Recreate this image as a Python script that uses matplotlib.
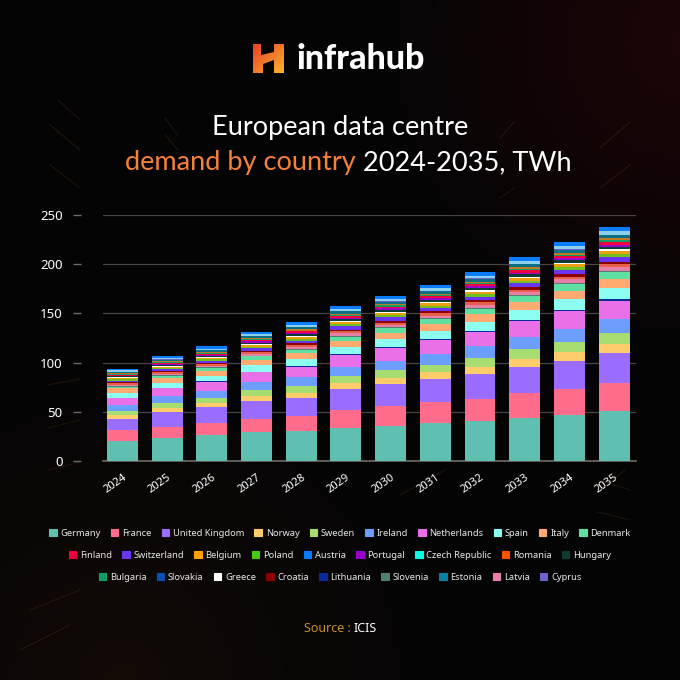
import numpy as np
import matplotlib
matplotlib.use('Agg')
import matplotlib.pyplot as plt
from matplotlib.patches import Patch, Polygon

years = [2024, 2025, 2026, 2027, 2028, 2029, 2030, 2031, 2032, 2033, 2034, 2035]
yticks = [0, 50, 100, 150, 200, 250]

germany = [20, 23, 26, 29, 30, 34, 36, 39, 41, 44, 47, 51]
france = [11, 12, 13, 14, 16, 18, 20, 21, 22.5, 25, 26, 28]
uk = [12, 15, 15.5, 18, 18, 21, 22, 23, 25, 27, 29, 31]
norway = [3.5, 4, 4.5, 5, 5.5, 6, 6, 7, 7.5, 8, 8.5, 9]
sweden = [4.5, 5, 5.5, 6, 7, 7, 8, 8, 9, 10, 10.5, 11]
ireland = [6, 7, 7, 8, 8.5, 9.5, 10, 11, 11.5, 12.5, 13.5, 14]
netherlands = [7, 8, 9, 10, 11, 12, 13, 13.5, 15, 16, 18, 19]
lithuania = [.5, .6, .6, .7, .8, .9, 1, 1, 1.1, 1.2, 1.4, 1.5]
spain = [4.7, 5, 5.5, 6.5, 7, 7.5, 8, 8.5, 9, 9.5, 10.5, 11]
italy = [4.5, 4.5, 5, 5.5, 6, 6.5, 6.5, 7, 7.5, 8, 8.5, 9]
denmark = [2, 2.5, 3, 3.5, 3.5, 4, 4.5, 5, 5.5, 6, 7, 7.5]
slovenia = [.6, .7, .7, .8, .9, 1, 1, 1.1, 1.2, 1.3, 1.4, 1.5]
latvia = [1.4, 1.5, 1.6, 1.9, 2, 2.3, 2.5, 2.6, 2.8, 3, 3.2, 3.5]
romania = [1.2, 1.3, 1.4, 1.7, 1.8, 2, 2.2, 2.3, 2.5, 2.6, 2.8, 3]
croatia = [1, 1.1, 1.2, 1.4, 1.6, 1.8, 1.9, 2, 2.1, 2.3, 2.4, 2.6]
switzerland = [1.9, 2.1, 2.3, 2.6, 2.8, 3.2, 3.4, 3.6, 3.8, 4.1, 4.4, 4.7]
poland = [1.2, 1.4, 1.5, 1.7, 1.9, 2.1, 2.2, 2.4, 2.5, 2.7, 2.9, 3.1]
belgium = [1.2, 1.3, 1.4, 1.7, 1.8, 2, 2.2, 2.3, 2.5, 2.6, 2.8, 3]
greece = [.8, .9, 1, 1.1, 1.2, 1.4, 1.4, 1.5, 1.6, 1.7, 1.9, 2]
hungary = [.9, 1, 1.1, 1.3, 1.5, 1.7, 1.7, 1.8, 2, 2.1, 2.2, 2.4]
portugal = [.9, 1, 1, 1.2, 1.3, 1.5, 1.6, 1.7, 1.8, 1.9, 2, 2.2]
finland = [1, 1.2, 1.3, 1.5, 1.6, 1.9, 1.9, 2.1, 2.2, 2.4, 2.5, 2.7]
bulgaria = [.6, .7, .7, .8, .9, 1, 1.1, 1.2, 1.2, 1.3, 1.4, 1.5]
slovakia = [.8, .9, 1, 1.1, 1.2, 1.4, 1.4, 1.5, 1.6, 1.7, 1.9, 2]
estonia = [1.3, 1.4, 1.6, 1.8, 2, 2.3, 2.4, 2.5, 2.7, 2.9, 3.1, 3.3]
cyprus = [.2, .2, .2, .3, .3, .3, .4, .4, .4, .4, .5, .5]
czech = [1.3, 1.5, 1.6, 1.9, 2, 2.3, 2.4, 2.6, 2.7, 2.9, 3.1, 3.4]
austria = [1.8, 2, 2.2, 2.5, 2.7, 3, 3.2, 3.4, 3.6, 3.9, 4.2, 4.5]

# stacking order in the bars is not the legend order
stack = [
    ('Germany', germany, '#5fbfb1'), ('France', france, '#ff6c8c'),
    ('United Kingdom', uk, '#9a6cff'), ('Norway', norway, '#ffcc6c'),
    ('Sweden', sweden, '#a6dc70'), ('Ireland', ireland, '#6c9eff'),
    ('Netherlands', netherlands, '#ea70e8'), ('Lithuania', lithuania, '#0a2a9a'),
    ('Spain', spain, '#8cfff0'), ('Italy', italy, '#ffaa70'),
    ('Denmark', denmark, '#5fe0a2'), ('Slovenia', slovenia, '#4f8070'),
    ('Latvia', latvia, '#e87fa8'), ('Romania', romania, '#e8604a'),
    ('Croatia', croatia, '#8b0000'), ('Switzerland', switzerland, '#6a35f0'),
    ('Poland', poland, '#6cc020'), ('Belgium', belgium, '#e8a010'),
    ('Greece', greece, '#ffffff'), ('Hungary', hungary, '#0d3d30'),
    ('Portugal', portugal, '#9900cc'), ('Finland', finland, '#f0003c'),
    ('Bulgaria', bulgaria, '#0f9d65'), ('Slovakia', slovakia, '#c07a20'),
    ('Estonia', estonia, '#0a6f85'), ('Cyprus', cyprus, '#6a63cc'),
    ('Czech Republic', czech, '#00ffe5'), ('Austria', austria, '#0a7cff'),
]
# these bands read differently in the bars than their swatches
bar_override = {'Czech Republic': '#8cd0ee'}
swatch_override = {'Romania': '#ff5500', 'Poland': '#44cc11', 'Belgium': '#ffa000', 'Slovakia': '#0a50b4', 'Estonia': '#0a7fa5'}

legend_rows = [
    ['Germany', 'France', 'United Kingdom', 'Norway', 'Sweden', 'Ireland', 'Netherlands', 'Spain', 'Italy', 'Denmark'],
    ['Finland', 'Switzerland', 'Belgium', 'Poland', 'Austria', 'Portugal', 'Czech Republic', 'Romania', 'Hungary'],
    ['Bulgaria', 'Slovakia', 'Greece', 'Croatia', 'Lithuania', 'Slovenia', 'Estonia', 'Latvia', 'Cyprus'],
]

plt.rcParams['font.family'] = ['Noto Sans', 'DejaVu Sans']
W = 680.0
fig = plt.figure(figsize=(6.8, 6.8), dpi=100, facecolor='#050405')

# backdrop, in pixel coordinates
bg = fig.add_axes([0, 0, 1, 1], zorder=0)
bg.set_xlim(0, W)
bg.set_ylim(W, 0)
bg.axis('off')
yy, xx = np.mgrid[0:170, 0:170] * 4
glow = np.zeros((170, 170, 3))
red = np.clip(1 - np.hypot(xx - 680, yy - 40) / 300, 0, 1)
low = np.clip(1 - np.hypot(xx - 120, yy - 680) / 300, 0, 1)
glow[..., 0] = 0.02 + 0.09 * red + 0.05 * low
glow[..., 1] = 0.016 + 0.006 * red + 0.025 * low
glow[..., 2] = 0.02 + 0.004 * red
bg.imshow(glow, extent=(0, W, W, 0), aspect='auto', interpolation='bilinear', zorder=0)

# faint streaks behind everything
for x0, x1, y0, y1 in [(50, 80, 125, 150), (50, 80, 165, 188), (58, 80, 100, 120), (165, 178, 118, 136), (165, 178, 135, 150),
                       (600, 630, 148, 122), (600, 630, 188, 165), (500, 514, 138, 122), (500, 514, 198, 188)]:
    bg.plot([x0, x1], [y0, y1], color='#b06a20', alpha=0.16, lw=0.8, zorder=1)
for x0, x1, y0, y1 in [(48, 80, 385, 379), (48, 80, 428, 420), (48, 80, 470, 462), (30, 80, 610, 590), (20, 70, 650, 625), (400, 445, 495, 470),
                       (600, 625, 490, 470), (598, 630, 480, 490), (598, 630, 512, 520)]:
    bg.plot([x0, x1], [y0, y1], color='#a05a20', alpha=0.14, lw=1.0, zorder=1)

# logo mark
grad = np.linspace(0, 1, 32)
gx, gy = np.meshgrid(grad, grad)
t = (gx + gy) / 2
mark = np.dstack([0.91 + 0.07 * t, 0.25 + 0.45 * t, 0.16 + 0.02 * t])
im = bg.imshow(mark, extent=(253, 284, 73, 44), aspect='auto', zorder=2)
bg.set_xlim(0, W)
bg.set_ylim(W, 0)
shape = Polygon([(253, 44), (261, 44), (261, 55), (274, 52), (274, 44), (284, 44), (284, 73), (274, 73), (274, 60),
                 (263, 64), (263, 73), (253, 73)], closed=True, transform=bg.transData, fc='none', ec='none')
bg.add_patch(shape)
im.set_clip_path(shape)
bg.text(297, 69, 'infrahub', color='white', fontsize=24.5, fontweight='black', family=['Lato', 'DejaVu Sans'], va='baseline', ha='left', zorder=3)

title_font = dict(fontsize=19.5, va='baseline', family=['Lato', 'DejaVu Sans'], fontweight='normal', zorder=3)
bg.text(340, 135, 'European data centre', color='white', ha='center', **title_font)
bg.text(125, 170, 'demand by country', color='#f58037', ha='left', **title_font)
bg.text(363, 170, '2024-2035, TWh', color='white', ha='left', **title_font)
bg.text(304, 632, 'Source :', color='#c8902a', fontsize=9, ha='left', va='baseline', zorder=3)
bg.text(354, 632, 'ICIS', color='white', fontsize=9, ha='left', va='baseline', zorder=3)

# chart
ax = fig.add_axes([103 / W, (W - 461) / W, 533 / W, 246 / W], zorder=2)
ax.patch.set_alpha(0)
x = np.arange(len(years))
bottom = np.zeros(len(years))
for name, vals, color in stack:
    vals = np.array(vals, dtype=float)
    ax.bar(x, vals, 0.69, bottom=bottom, color=bar_override.get(name, color), linewidth=0, zorder=3)
    bottom += vals

ax.set_xlim(-0.434, 11.49)
ax.set_ylim(0, 250)
ax.set_yticks(yticks)
ax.set_xticks(x)
ax.set_xticklabels(years, rotation=35, ha='right', rotation_mode='anchor', color='white', fontsize=8)
ax.tick_params(axis='x', length=0, pad=8)
ax.tick_params(axis='y', length=6, width=1, color='#6e6a68', labelcolor='white', labelsize=9.5, pad=7)
ax.grid(axis='y', color='#4a4442', lw=0.9, zorder=1)
ax.spines['left'].set_position(('outward', 16))
for side in ['top', 'right', 'left']:
    ax.spines[side].set_visible(False)
ax.spines['bottom'].set_color('#6e6a68')
ax.spines['bottom'].set_linewidth(1.2)

# three centred legend rows
colors = {name: color for name, vals, color in stack}
colors.update(swatch_override)
for row, ypx in zip(legend_rows, [533, 555, 577]):
    handles = [Patch(facecolor=colors[n], edgecolor=colors[n], linewidth=0.8, joinstyle='round', label=n) for n in row]
    fig.legend(handles=handles, loc='center', bbox_to_anchor=(340 / W, (W - ypx) / W), ncol=len(row), frameon=False,
               fontsize=6.7, labelcolor='#e8e8e8', handlelength=0.8, handleheight=0.8, handletextpad=0.4,
               columnspacing=1.1, borderpad=0, borderaxespad=0)

fig.savefig('out.png', dpi=100, facecolor=fig.get_facecolor())
